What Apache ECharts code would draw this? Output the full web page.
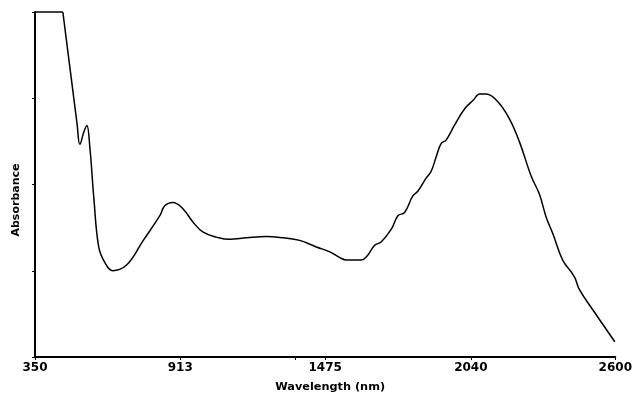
<!DOCTYPE html>
<html>
<head>
<meta charset="utf-8">
<script src="https://cdn.jsdelivr.net/npm/echarts@6/dist/echarts.min.js"></script>
<style>html,body{margin:0;padding:0;background:#fff;overflow:hidden}#c{width:635px;height:398px}</style>
</head>
<body>
<div id="c"></div>
<script>
const wavelengths = [350, 458, 493, 513, 524, 540, 551, 563, 578, 597, 621, 651, 705, 768, 834, 853, 885, 925, 963, 1002, 1054, 1105, 1170, 1248, 1312, 1376, 1441, 1493, 1532, 1557, 1615, 1635, 1667, 1692, 1732, 1757, 1783, 1815, 1835, 1867, 1886, 1906, 1925, 1944, 1976, 2016, 2048, 2074, 2100, 2144, 2189, 2228, 2274, 2306, 2332, 2358, 2396, 2441, 2461, 2512, 2598];
const absorbance = [4.0, 4.0, 3.175, 2.706, 2.466, 2.614, 2.683, 2.42, 1.848, 1.276, 1.093, 1.001, 1.066, 1.344, 1.638, 1.753, 1.791, 1.714, 1.562, 1.447, 1.39, 1.364, 1.382, 1.398, 1.382, 1.352, 1.276, 1.219, 1.153, 1.124, 1.124, 1.161, 1.295, 1.333, 1.485, 1.638, 1.676, 1.867, 1.924, 2.077, 2.153, 2.325, 2.477, 2.515, 2.686, 2.878, 2.973, 3.049, 3.049, 2.961, 2.763, 2.497, 2.096, 1.886, 1.619, 1.428, 1.124, 0.932, 0.78, 0.551, 0.177];
const xTickLabels = [350, 913, 1475, 2040, 2600];
const xTickMarks = [350, 913, 1358, 1475, 2040, 2600];
const yTickValues = [0, 1, 2, 3, 4];
const xAxisTitle = 'Wavelength (nm)';
const yAxisTitle = 'Absorbance';

const pts = wavelengths.map((w, i) => [w, absorbance[i]]);
const plateau = pts.slice(0, 2);
const curve = pts.slice(1);
const chart = echarts.init(document.getElementById('c'), null, {renderer: 'canvas'});
const font = '"DejaVu Sans", Verdana, sans-serif';
chart.setOption({
  animation: false,
  backgroundColor: '#fff',
  grid: {left: 35, right: 18.5, top: 12, bottom: 36.5, containLabel: false},
  xAxis: {
    type: 'value', min: 350, max: 2600,
    name: xAxisTitle, nameLocation: 'middle', nameGap: 25,
    nameTextStyle: {fontFamily: font, fontWeight: 'bold', fontSize: 11.3, color: '#000', padding: [0, 0, 0, 10]},
    axisLine: {show: true, lineStyle: {color: '#000', width: 2}},
    axisTick: {show: true, length: 3, customValues: xTickMarks, lineStyle: {color: '#000', width: 1}},
    axisLabel: {show: true, customValues: xTickLabels, margin: 5, fontFamily: font, fontWeight: 'bold', fontSize: 12, color: '#000',
      formatter: v => String(v)},
    splitLine: {show: false}
  },
  yAxis: {
    type: 'value', min: 0, max: 4,
    axisLine: {show: true, lineStyle: {color: '#000', width: 2}},
    axisTick: {show: true, length: 3, customValues: yTickValues, lineStyle: {color: '#000', width: 1}},
    axisLabel: {show: false},
    splitLine: {show: false}
  },
  graphic: [{
    type: 'text', x: 16, y: 200, rotation: Math.PI / 2,
    style: {text: yAxisTitle, fontFamily: font, fontWeight: 'bold', fontSize: 11, fill: '#000', align: 'center', verticalAlign: 'middle'}
  }],
  series: [{
    type: 'line', data: plateau, showSymbol: false, clip: false, smooth: false,
    lineStyle: {color: '#000', width: 1.5}
  }, {
    type: 'line', data: curve, showSymbol: false, clip: false,
    smooth: 0.4,
    lineStyle: {color: '#000', width: 1.5}
  }]
});
</script>
</body>
</html>
